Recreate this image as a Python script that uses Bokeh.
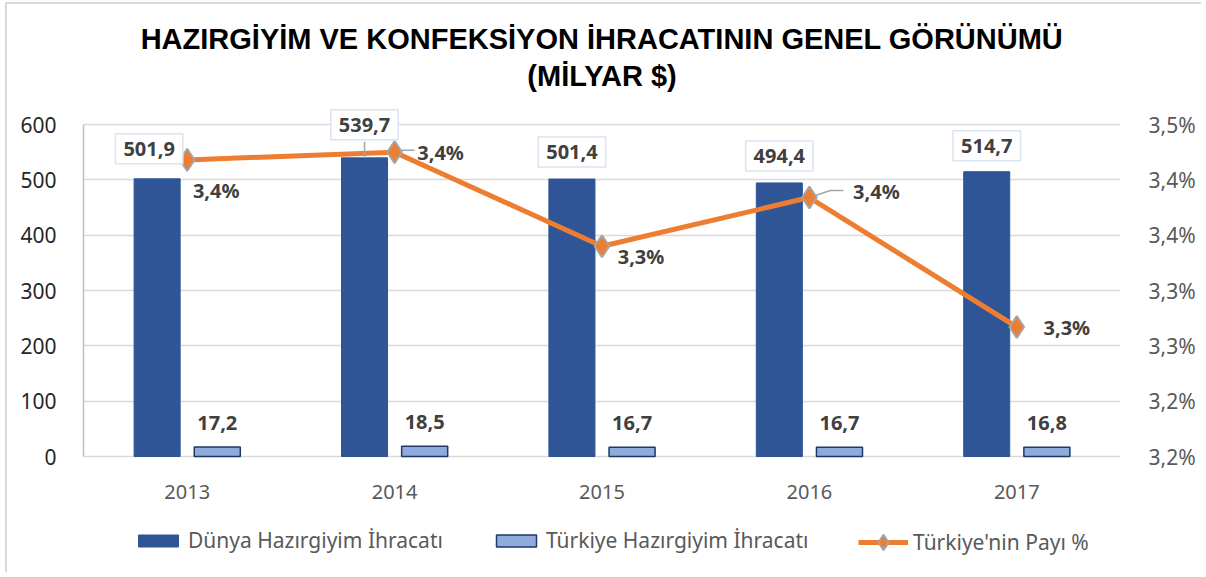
from bokeh.plotting import figure
from bokeh.models import (ColumnDataSource, FactorRange, Range1d, LinearAxis, FixedTicker,
                          Label, Legend, LegendItem, Title)
from bokeh.transform import dodge
from bokeh.embed import file_html
from bokeh.resources import INLINE

# ---------------- data ----------------
years = ["2013", "2014", "2015", "2016", "2017"]
world_exports = [501.9, 539.7, 501.4, 494.4, 514.7]      # Dünya Hazırgiyim İhracatı (milyar $)
turkey_exports = [17.2, 18.5, 16.7, 16.7, 16.8]          # Türkiye Hazırgiyim İhracatı (milyar $)
turkey_share = [3.418, 3.425, 3.340, 3.384, 3.267]       # Türkiye'nin Payı %
left_ticks = [0, 100, 200, 300, 400, 500, 600]
right_ticks = [3.15, 3.20, 3.25, 3.30, 3.35, 3.40, 3.45]
right_tick_labels = ["3,2%", "3,2%", "3,3%", "3,3%", "3,4%", "3,4%", "3,5%"]
series_names = ["Dünya Hazırgiyim İhracatı", "Türkiye Hazırgiyim İhracatı", "Türkiye'nin Payı %"]
title_lines = ["HAZIRGİYİM VE KONFEKSİYON İHRACATININ GENEL GÖRÜNÜMÜ", "(MİLYAR $)"]

# ---------------- layout / style constants (screen px) ----------------
PAGE_W, PAGE_H = 1203, 574        # keep a little slack so the page never overflows
OX, OY = 7, 4                     # figure origin inside the page (after margin + border)
FIG_W, FIG_H = PAGE_W - OX, PAGE_H - OY
FRAME_L, FRAME_R, FRAME_T = 83, 1120, 100   # page px
AX_TOP, AX_ZERO = 124, 456                  # page px of value 600 / 0
PX_PER_UNIT = (AX_ZERO - AX_TOP) / (left_ticks[-1] - left_ticks[0])
PX_PER_PCT = (AX_ZERO - AX_TOP) / (right_ticks[-1] - right_ticks[0])
PX_PER_CAT = (FRAME_R - FRAME_L) / len(years)

world_label_dy = [30, 33, 27, 27, 26]
world_label_dx = [-8, 0, 0, 0, 0]
share_label_dx = [29, 46, 39, 67, 50]
share_label_dy = [-31, 0, -10, 6, 0]

DARK = "#2F5597"
LIGHT = "#8FAADC"
LIGHT_EDGE = "#1F3864"
ORANGE = "#ED7D31"
GRAY = "#A5A5A5"
FONT = "Noto Sans"

src = ColumnDataSource(dict(year=years, world=world_exports, turkey=turkey_exports, share=turkey_share))

y0 = left_ticks[0] - (PAGE_H - AX_ZERO) / PX_PER_UNIT
y1 = left_ticks[-1] + (AX_TOP - FRAME_T) / PX_PER_UNIT
q0 = right_ticks[0] - (PAGE_H - AX_ZERO) / PX_PER_PCT
q1 = right_ticks[-1] + (AX_TOP - FRAME_T) / PX_PER_PCT

p = figure(x_range=FactorRange(factors=years), y_range=Range1d(y0, y1),
           width=FIG_W, height=FIG_H, output_backend="svg", toolbar_location=None,
           x_axis_location=None,
           min_border_left=FRAME_L - OX, min_border_right=FIG_W - (FRAME_R - OX),
           min_border_top=FRAME_T - OY, min_border_bottom=0, title=None)
p.styles = {"border-left": "2px solid #D9D9D9", "border-top": "2px solid #D9D9D9",
            "margin-left": "5px", "margin-top": "2px"}
p.outline_line_color = None
p.background_fill_color = "white"
p.border_fill_color = "white"

# titles
p.add_layout(Title(text=title_lines[1], align="center", text_font="Liberation Sans",
                   text_font_size="29px", text_font_style="bold", text_color="black",
                   standoff=17), "above")
p.add_layout(Title(text=title_lines[0], align="center", text_font="Liberation Sans",
                   text_font_size="29px", text_font_style="bold", text_color="black",
                   standoff=-11), "above")

# bars
r1 = p.vbar(x=dodge("year", -0.145, range=p.x_range), top="world", width=0.222, source=src,
            fill_color=DARK, line_color=DARK, line_width=1)
r2 = p.vbar(x=dodge("year", 0.145, range=p.x_range), top="turkey", width=0.222, source=src,
            fill_color=LIGHT, line_color=LIGHT_EDGE, line_width=1.5)

# share line on secondary axis
p.extra_y_ranges = {"pct": Range1d(q0, q1)}
r3 = p.line(x="year", y="share", source=src, y_range_name="pct", line_color=ORANGE, line_width=5)

# leader lines (2014 value box, 2014 / 2016 share labels)
i = 1
p.line(x=[i + 0.5 - 0.145] * 2,
       y=[world_exports[i], world_exports[i] + 16 / PX_PER_UNIT],
       line_color=GRAY, line_width=1.5)
p.line(x=[i + 0.5, i + 0.5 + 20 / PX_PER_CAT],
       y=[turkey_share[i] + 2 / PX_PER_PCT] * 2, y_range_name="pct",
       line_color=GRAY, line_width=1.5)
i = 3
p.line(x=[i + 0.5, i + 0.5 + 21 / PX_PER_CAT, i + 0.5 + 34 / PX_PER_CAT],
       y=[turkey_share[i], turkey_share[i] + 7 / PX_PER_PCT, turkey_share[i] + 7 / PX_PER_PCT],
       y_range_name="pct", line_color=GRAY, line_width=1.5)

r4 = p.scatter(x="year", y="share", source=src, y_range_name="pct", marker="diamond", size=22,
               fill_color=ORANGE, line_color=GRAY, line_width=2)

# axes
p.yaxis.ticker = FixedTicker(ticks=left_ticks)
p.yaxis.bounds = (left_ticks[0], left_ticks[-1])
p.yaxis.axis_line_color = "#BFBFBF"
p.yaxis.axis_line_width = 1.5
p.yaxis.major_tick_line_color = None
p.yaxis.minor_tick_line_color = None
p.yaxis.major_label_text_font = FONT
p.yaxis.major_label_text_font_size = "21px"
p.yaxis.major_label_text_color = "#262626"
p.yaxis.major_label_standoff = 21

ax2 = LinearAxis(y_range_name="pct", ticker=FixedTicker(ticks=right_ticks),
                 bounds=(right_ticks[0], right_ticks[-1]),
                 major_label_overrides=dict(zip(right_ticks, right_tick_labels)))
ax2.axis_line_color = None
ax2.major_tick_line_color = None
ax2.minor_tick_line_color = None
ax2.major_label_text_font = FONT
ax2.major_label_text_font_size = "21px"
ax2.major_label_text_color = "#595959"
ax2.major_label_standoff = 22
p.add_layout(ax2, "right")

p.xgrid.grid_line_color = None
p.ygrid.ticker = FixedTicker(ticks=left_ticks)
p.ygrid.grid_line_color = "#D9D9D9"
p.ygrid.grid_line_width = 1.5

# category labels (x axis)
for i, yr in enumerate(years):
    p.add_layout(Label(x=i + 0.5, y=left_ticks[0], text=yr, y_offset=-35,
                       text_align="center", text_baseline="middle",
                       text_font=FONT, text_font_size="20px", text_color="#595959"))

# data labels
for i, (w, t, s) in enumerate(zip(world_exports, turkey_exports, turkey_share)):
    xc = i + 0.5
    p.add_layout(Label(x=xc - 0.145, y=w, text=f"{w:.1f}".replace(".", ","),
                       x_offset=world_label_dx[i], y_offset=world_label_dy[i],
                       text_align="center", text_baseline="middle",
                       text_font=FONT, text_font_size="20px", text_font_style="bold",
                       text_color="#404040", background_fill_color="white",
                       border_line_color="#DAE3F3", border_line_width=1.5, padding=8))
    p.add_layout(Label(x=xc + 0.145, y=t, text=f"{t:.1f}".replace(".", ","),
                       y_offset=24, text_align="center", text_baseline="middle",
                       text_font=FONT, text_font_size="20px", text_font_style="bold",
                       text_color="#404040"))
    p.add_layout(Label(x=xc, y=s, y_range_name="pct", text=f"{s:.1f}".replace(".", ",") + "%",
                       x_offset=share_label_dx[i], y_offset=share_label_dy[i],
                       text_align="center", text_baseline="middle",
                       text_font=FONT, text_font_size="20px", text_font_style="bold",
                       text_color="#404040"))

legend_style = dict(orientation="horizontal", glyph_width=50, label_standoff=5, spacing=48,
                    label_text_font=FONT, label_text_font_size="21px", label_text_color="#595959",
                    border_line_color=None, background_fill_alpha=0, padding=0, margin=0)
legend_a = Legend(items=[LegendItem(label=series_names[0], renderers=[r1]),
                         LegendItem(label=series_names[1], renderers=[r2])],
                  location=(50, 20), glyph_height=15, **legend_style)
legend_b = Legend(items=[LegendItem(label=series_names[2], renderers=[r3, r4])],
                  location=(775, 13), glyph_height=38, **legend_style)
p.add_layout(legend_a, "center")
p.add_layout(legend_b, "center")

open("out.html", "w").write(file_html(p, INLINE))
